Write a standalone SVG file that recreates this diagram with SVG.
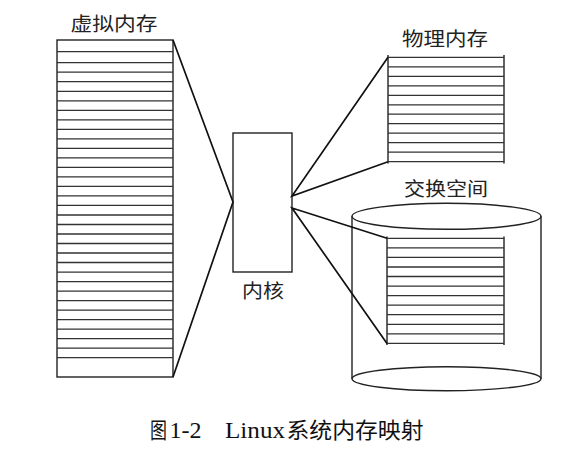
<svg xmlns="http://www.w3.org/2000/svg" width="582" height="450" viewBox="0 0 582 450">
<style>
.box{fill:none;stroke:#222;stroke-width:1.4}
.rows{fill:none;stroke:#333;stroke-width:1.3}
.conn{fill:none;stroke:#111;stroke-width:1.7}
.lbl{font-family:"Noto Sans CJK SC","Noto Sans CJK JP",sans-serif;font-size:19px;fill:#222}
.cap{font-family:"Noto Sans CJK SC",sans-serif;font-size:22px;fill:#111}
.capl{font-family:"Liberation Serif","Noto Sans CJK SC",serif;font-size:24px;fill:#111}
</style>
<rect width="582" height="450" fill="#fff"/>
<g id="virtual-memory">
<rect class="box" x="57" y="40" width="116" height="337"/>
<path class="rows" d="M57 51.7H173M57 62.7H173M57 72.2H173M57 81.7H173M57 91.3H173M57 100.8H173M57 110.3H173M57 119.8H173M57 129.3H173M57 138.8H173M57 148.3H173M57 157.9H173M57 167.4H173M57 176.9H173M57 186.4H173M57 195.9H173M57 205.4H173M57 215H173M57 224.5H173M57 234H173M57 243.5H173M57 253H173M57 262.5H173M57 272.1H173M57 281.6H173M57 291.1H173M57 300.6H173M57 310.1H173M57 319.6H173M57 329.2H173M57 338.7H173M57 348.2H173M57 357.7H173"/>
<text class="lbl" x="70.5" y="31" textLength="87" lengthAdjust="spacingAndGlyphs">虚拟内存</text>
</g>
<g id="kernel">
<rect class="box" x="233" y="133" width="59" height="139"/>
<text class="lbl" x="242" y="298" textLength="42" lengthAdjust="spacingAndGlyphs">内核</text>
</g>
<g id="physical-memory">
<path class="box" d="M388 55V163.5M504 55V163.5"/>
<path class="rows" d="M388 57.3H504M388 66.8H504M388 76.3H504M388 85.8H504M388 95.3H504M388 104.8H504M388 114.2H504M388 123.7H504M388 133.2H504M388 142.7H504M388 152.2H504M388 161.7H504"/>
<text class="lbl" x="402" y="46" textLength="86" lengthAdjust="spacingAndGlyphs">物理内存</text>
</g>
<g id="swap-space">
<ellipse class="box" cx="446.5" cy="216.3" rx="94.5" ry="13"/>
<path class="box" d="M352 216.3V378.7M541 216.3V378.7"/>
<ellipse class="box" cx="446.5" cy="378.7" rx="94.5" ry="12"/>
<path class="box" d="M387 236.5V345M504 236.5V345"/>
<path class="rows" d="M387 238.3H504M387 247.9H504M387 257.4H504M387 267H504M387 276.5H504M387 286.1H504M387 295.6H504M387 305.2H504M387 314.7H504M387 324.3H504M387 333.8H504M387 343.4H504"/>
<text class="lbl" x="404" y="196" textLength="84" lengthAdjust="spacingAndGlyphs">交换空间</text>
</g>
<g id="connectors">
<path class="conn" d="M173 40L233 202L173 377"/>
<path class="conn" d="M388 57.3L292 196L388 161.7"/>
<path class="conn" d="M387 238.3L292 208L387 343.4"/>
</g>
<g id="caption">
<text class="cap" x="150" y="438" textLength="17" lengthAdjust="spacingAndGlyphs">图</text>
<text class="capl" x="169.5" y="438">1-2</text>
<text class="capl" x="225" y="438" textLength="60" lengthAdjust="spacingAndGlyphs">Linux</text>
<text class="cap" x="286.5" y="438" textLength="137" lengthAdjust="spacingAndGlyphs">系统内存映射</text>
</g>
</svg>
